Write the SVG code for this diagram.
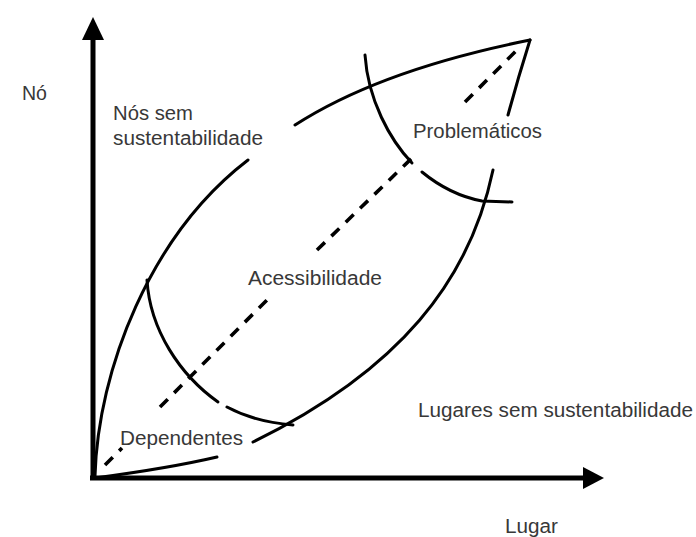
<svg xmlns="http://www.w3.org/2000/svg" width="696" height="537" viewBox="0 0 696 537">
  <style>
    text { font-family: "Liberation Sans", Arial, sans-serif; font-size: 20px; fill: #383838; }
    .curve { fill: none; stroke: #000; stroke-width: 3; stroke-linecap: round; }
    .dash { fill: none; stroke: #000; stroke-width: 3.6; stroke-dasharray: 11 9; }
    .axis { fill: none; stroke: #000; stroke-width: 5; }
  </style>
  <rect width="696" height="537" fill="#fff"/>
  <g id="axes">
    <line class="axis" x1="93" y1="478" x2="93" y2="36"/>
    <polygon points="93,17 82,40 104,40" fill="#000"/>
    <line class="axis" x1="90" y1="478" x2="586" y2="478"/>
    <polygon points="604,478 583,467 583,489" fill="#000"/>
  </g>
  <g id="connectors">
    <path class="curve" d="M95,476 C98,370 150,235 248,160"/>
    <path class="curve" d="M295,125 Q380,70 530,40"/>
    <path class="curve" d="M530,40 Q518,78 508,115"/>
    <path class="curve" d="M493,170 C470,280 400,370 253,442"/>
    <path class="curve" d="M217,457 Q170,468 95,478"/>
    <path class="curve" d="M365,55 C368,100 390,140 412,163"/>
    <path class="curve" d="M422,172 Q450,195 482,201 L512,202"/>
    <path class="curve" d="M147,280 C150,330 180,375 218,402"/>
    <path class="curve" d="M227,407 Q255,422 293,425"/>
    <path class="dash" d="M105,465 L122,448"/>
    <path class="dash" d="M160,407 L272,295"/>
    <path class="dash" d="M317,250 L412,158"/>
    <path class="dash" d="M465,102 L520,47"/>
  </g>
  <g id="label-no"><text x="22" y="100" textLength="25" lengthAdjust="spacingAndGlyphs">Nó</text></g>
  <g id="label-nos-sem">
    <text x="113" y="120" textLength="80" lengthAdjust="spacingAndGlyphs">Nós sem</text>
    <text x="113" y="145" textLength="150" lengthAdjust="spacingAndGlyphs">sustentabilidade</text>
  </g>
  <g id="label-problematicos"><text x="413" y="138" textLength="129" lengthAdjust="spacingAndGlyphs">Problemáticos</text></g>
  <g id="label-acessibilidade"><text x="248" y="285" textLength="134" lengthAdjust="spacingAndGlyphs">Acessibilidade</text></g>
  <g id="label-dependentes"><text x="120" y="445" textLength="123" lengthAdjust="spacingAndGlyphs">Dependentes</text></g>
  <g id="label-lugares"><text x="418" y="417" textLength="275" lengthAdjust="spacingAndGlyphs">Lugares sem sustentabilidade</text></g>
  <g id="label-lugar"><text x="505" y="533" textLength="53" lengthAdjust="spacingAndGlyphs">Lugar</text></g>
</svg>
